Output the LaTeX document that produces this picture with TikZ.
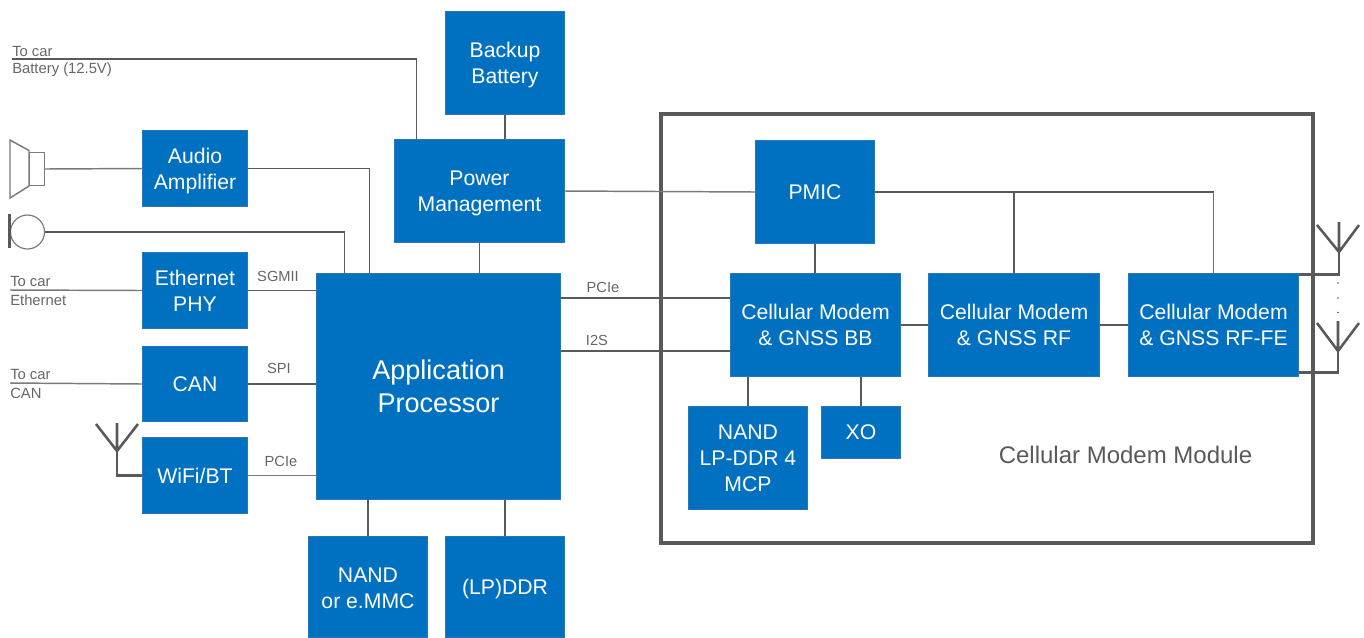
\documentclass[tikz,border=0pt]{standalone}
\usepackage{fontspec}
\setmainfont{Liberation Sans}
\usetikzlibrary{calc}
\definecolor{boxblue}{HTML}{0070C0}
\definecolor{boxedge}{HTML}{2A76B8}
\definecolor{linegray}{HTML}{595959}
\definecolor{labelgray}{HTML}{666666}
\definecolor{wireblue}{HTML}{1E88D0}
\tikzset{
  box/.style={draw=boxedge,line width=0.75pt,fill=boxblue,text=white,inner sep=0pt,outer sep=0pt,align=center,font=\fontsize{15.9pt}{19.6pt}\selectfont},
  bigbox/.style={box,font=\fontsize{20.3pt}{24.8pt}\selectfont},
  ln/.style={draw=linegray,line width=1.1pt},
  lnthick/.style={draw=linegray,line width=1.9pt},
  lnthin/.style={draw=linegray!80,line width=1.1pt},
  sig/.style={text=labelgray,inner sep=0pt,font=\fontsize{11pt}{13pt}\selectfont},
  small/.style={text=labelgray,inner sep=0pt,anchor=west,font=\fontsize{11.1pt}{13pt}\selectfont},
}
\newcommand{\bx}[7][box]{\node[#1,minimum width={(#5-#3-0.7)*0.75pt},minimum height={(#6-#4-0.7)*0.75pt}] (#2) at ({(#3+#5)/2},{(#4+#6)/2}) {#7};}
\newcommand{\lowered}[1]{\rule{0pt}{#1}}
\begin{document}
\begin{tikzpicture}[x=0.75pt,y=-0.75pt]
\useasboundingbox (0,0) rectangle (1364,637);
% module frame
\node[draw=linegray,line width=3pt,minimum width={652*0.75pt},minimum height={429*0.75pt},inner sep=0pt] (module) at (987,328.5) {};
% boxes
\bx{bk}{445}{11}{565}{115}{\lowered{14.5pt}Backup\\Battery}
\bx{pm}{394}{139}{565}{243}{\lowered{14.5pt}Power\\Management}
\bx{pmic}{755}{140}{875}{244}{PMIC}
\bx{aud}{142}{130}{248}{207}{\lowered{15.3pt}Audio\\Amplifier}
\bx{eth}{142}{252}{248}{329}{Ethernet\\PHY}
\bx{can}{142}{346}{248}{422}{CAN}
\bx{wifi}{142}{437}{248}{514}{WiFi/BT}
\bx[bigbox]{ap}{316}{273}{561}{500}{Application\\Processor}
\bx{nand}{308}{536}{428}{638}{\lowered{13pt}NAND\\or e.MMC}
\bx{ddr}{445}{536}{565}{638}{\lowered{14pt}(LP)DDR}
\bx{bb}{730}{273}{901}{377}{Cellular Modem\\\& GNSS BB}
\bx{rf}{928}{273}{1100}{377}{Cellular Modem\\\& GNSS RF}
\bx{fe}{1128}{273}{1299}{377}{Cellular Modem\\\& GNSS RF-FE}
\bx{mcp}{688}{406}{808}{510}{NAND\\LP-DDR 4\\MCP}
\bx{xo}{821}{406}{901}{459}{XO}
\node[text=linegray,inner sep=0pt,font=\fontsize{18pt}{22pt}\selectfont] (modlabel) at (1125.5,455) {Cellular Modem Module};
% free ends and symbols
\coordinate (batt) at (12,59);
\coordinate (carEth) at (10,290);
\coordinate (carCan) at (10,383);
\draw[lnthin] (10,140) -- (29,150.5) -- (29,186) -- (10,198) -- cycle;
\node[draw=linegray!80,line width=0.9pt,minimum width={15*0.75pt},minimum height={33*0.75pt},inner sep=0pt] (spk) at (37,169) {};
\node[circle,draw=linegray!80,line width=0.9pt,minimum size={34*0.75pt},inner sep=0pt] (mic) at (27.5,232) {};
\draw[lnthick] (9.5,214) -- (9.5,248);
% antennas
\coordinate (antW) at (117,451);
\coordinate (antA) at (1339,252);
\coordinate (antB) at (1338,351);
\draw[lnthick] (96,424) -- (antW) -- (138,424) (117,423) -- (antW);
\draw[lnthick] (antW) |- (wifi.west);
\draw[lnthick] (1317,225) -- (antA) -- (1359,225) (1339,222) -- (antA);
\draw[lnthick] (antA) |- ($(fe.north east)+(0,1)$);
\draw[lnthick] (1317,323) -- (antB) -- (1359,323) (1338,321) -- (antB);
\draw[lnthick] (antB) |- ($(fe.south east)+(0,-4)$);
\foreach \yy in {283,298,312.5}{\fill[linegray] (1338,\yy) circle (0.9);}
% connectors
\draw[ln] (batt) -| ($(pm.north west)+(22,0)$);
\draw[ln] (bk.south) -- (bk.south |- pm.north);
\draw[lnthin] (spk.east) -- (aud.west);
\draw[ln] (aud.east) -| ($(ap.north west)+(53,0)$);
\draw[ln] (mic.east) -| ($(ap.north west)+(28,0)$);
\draw[lnthin] (carEth) -- (eth.west);
\draw[lnthin] (carCan) -- (can.west);
\draw[ln] (eth.east) -- (eth.east -| ap.west);
\draw[ln] (can.east) -- (can.east -| ap.west);
\draw[lnthin] (wifi.east) -- (wifi.east -| ap.west);
\draw[ln] (pm.south) -- (pm.south |- ap.north);
\draw[ln] (nand.north) -- (nand.north |- ap.south);
\draw[ln] (ddr.north) -- (ddr.north |- ap.south);
\draw[lnthin] (pm.east) -- (pmic.west);
\coordinate (pcieAt) at ($(bb.west)+(0,-27)$);
\coordinate (iisAt) at ($(bb.west)+(0,26)$);
\draw[ln] (ap.east |- pcieAt) -- (pcieAt);
\draw[ln] (ap.east |- iisAt) -- (iisAt);
\draw[ln] (pmic.south) -- (pmic.south |- bb.north);
\draw[ln] (pmic.east) -- (pmic.east -| fe.north);
\draw[ln] (rf.north |- pmic.east) -- (rf.north);
\draw[draw=wireblue,line width=1.1pt] (fe.north |- pmic.east) -- (fe.north);
\draw[ln] (bb.east) -- (rf.west);
\draw[ln] (rf.east) -- (fe.west);
\draw[ln] (mcp.north) -- (mcp.north |- bb.south);
\draw[ln] (xo.north) -- (xo.north |- bb.south);
% labels
\node[small] (l1) at (12,51) {To car};
\node[small] (l2) at (12,70) {Battery (12.5V)};
\node[small] (l3) at (10,281) {To car};
\node[small] (l4) at (10,300) {Ethernet};
\node[small] (l5) at (10,374) {To car};
\node[small] (l6) at (10,393) {CAN};
\node[sig] (s1) at (278,276) {SGMII};
\node[sig] (s2) at (279,368) {SPI};
\node[sig] (s3) at (281,461) {PCIe};
\node[sig] (s4) at (603,287) {PCIe};
\node[sig] (s5) at (597,340) {I2S};
\end{tikzpicture}
\end{document}
